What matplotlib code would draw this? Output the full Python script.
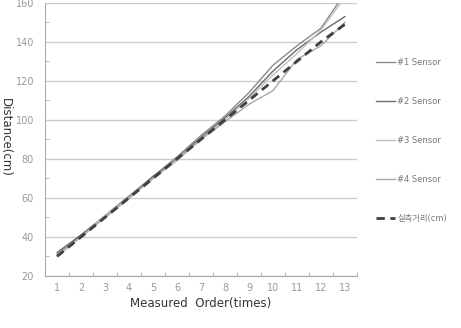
import matplotlib
matplotlib.use('Agg')
import matplotlib.pyplot as plt
from matplotlib.font_manager import FontProperties
from matplotlib.ticker import MultipleLocator, FixedLocator

plt.rcParams['font.family'] = ['DejaVu Sans', 'Noto Sans CJK KR']

order = list(range(1, 14))
sensor1 = [31, 41, 51, 61, 71, 81, 92, 102, 114, 128, 138, 147, 165]
sensor2 = [32, 41, 50, 60, 71, 80, 91, 101, 112, 125, 136, 145, 153]
sensor3 = [30, 40, 51, 60, 70, 79, 90, 100, 111, 123, 134, 146, 163]
sensor4 = [31, 40, 50, 60, 70, 80, 90, 99, 108, 115, 131, 138, 150]
actual = [30, 40, 50, 60, 70, 80, 90, 100, 110, 120, 130, 140, 149]

labels = ['#1 Sensor', '#2 Sensor', '#3 Sensor', '#4 Sensor', '실측거리(cm)']

fig = plt.figure(figsize=(4.61, 3.28), dpi=100)
ax = fig.add_axes([0.098, 0.159, 0.676, 0.832])

ax.plot(order, sensor1, color='#8a8a8a', lw=1.0, label=labels[0])
ax.plot(order, sensor2, color='#6a6a6a', lw=1.0, label=labels[1])
ax.plot(order, sensor3, color='#c0c0c0', lw=1.0, label=labels[2])
ax.plot(order, sensor4, color='#a8a8a8', lw=1.0, label=labels[3])
ax.plot(order, actual, color='#404040', lw=2.0, ls=(0, (3, 2)), label=labels[4])

ax.set_xlim(0.5, 13.5)
ax.set_ylim(20, 160)
ax.set_xticks(order)
ax.xaxis.set_minor_locator(FixedLocator([i + 0.5 for i in range(0, 14)]))
ax.tick_params(axis='x', which='major', length=0, labelsize=7, colors='#999999', pad=5)
ax.tick_params(axis='x', which='minor', length=3, color='#aaaaaa', direction='in')
ax.yaxis.set_major_locator(MultipleLocator(20))
ax.yaxis.set_minor_locator(MultipleLocator(10))
ax.tick_params(axis='y', which='major', length=0, labelsize=7, colors='#999999', pad=8)
ax.tick_params(axis='y', which='minor', length=3, color='#aaaaaa', direction='in')
ax.grid(axis='y', which='major', color='#cccccc', lw=1.0)
ax.set_axisbelow(True)
for s in ['top', 'right']:
    ax.spines[s].set_visible(False)
for s in ['left', 'bottom']:
    ax.spines[s].set_color('#aaaaaa')

ax.set_xlabel('Measured  Order(times)', fontsize=8.5, color='#333333', labelpad=3)
fig.text(0.012, 0.58, 'Distance(cm)', rotation=-90, fontsize=8.5, color='#333333',
         ha='center', va='center')

leg = fig.legend(loc='upper left', bbox_to_anchor=(0.8, 0.845), frameon=False,
                 prop=FontProperties(family=['DejaVu Sans', 'Noto Sans CJK KR'], size=6),
                 labelspacing=3.6, handlelength=2.2, handletextpad=0.3)
for t in leg.get_texts():
    t.set_color('#777777')

fig.savefig('out.png', dpi=100)
